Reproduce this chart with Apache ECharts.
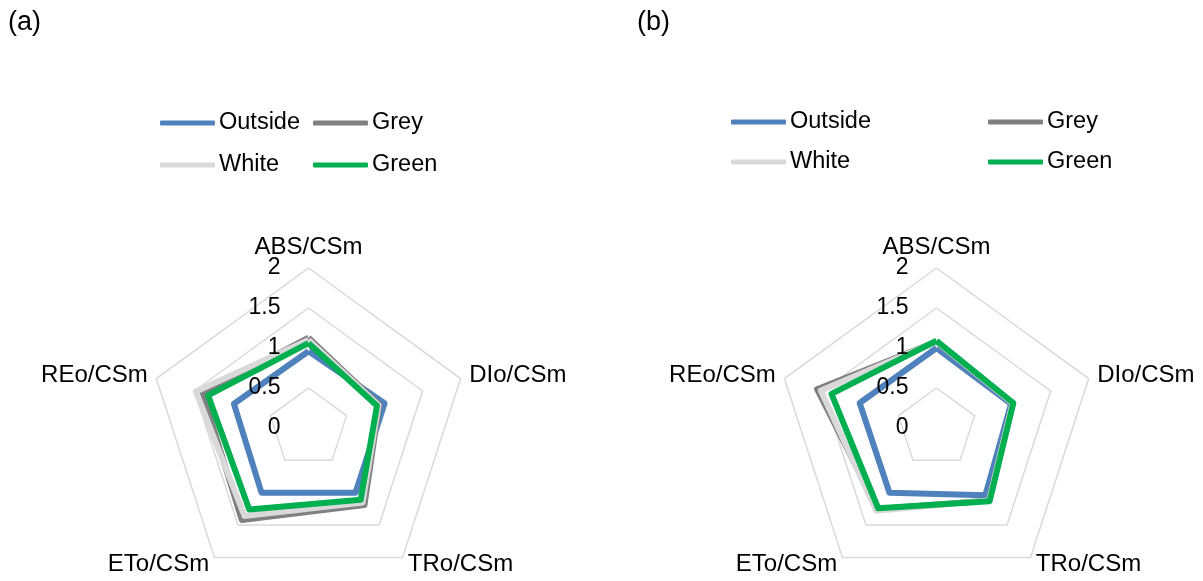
<!DOCTYPE html>
<html>
<head>
<meta charset="utf-8">
<script src="https://cdn.jsdelivr.net/npm/echarts@6/dist/echarts.min.js"></script>
<style>
  html, body { margin: 0; padding: 0; background: #fff; }
  #chart { width: 1203px; height: 581px; }
</style>
</head>
<body>
<div id="chart"></div>
<script>
// categories clockwise from the top
var categories = ['ABS/CSm', 'DIo/CSm', 'TRo/CSm', 'ETo/CSm', 'REo/CSm'];
var seriesNames = ['Outside', 'Grey', 'White', 'Green'];
var colors = ['#4f81bd', '#808080', '#d9d9d9', '#00b050'];

// (a)
var outsideA = [0.96, 1.00, 1.00, 1.00, 0.98];
var greyA    = [1.13, 0.93, 1.19, 1.42, 1.39];
var whiteA   = [1.10, 0.92, 1.15, 1.36, 1.48];
var greenA   = [1.06, 0.90, 1.11, 1.26, 1.32];

// (b)
var outsideB = [1.00, 0.98, 1.04, 1.00, 1.01];
var greyB    = [1.08, 1.00, 1.12, 1.25, 1.57];
var whiteB   = [1.08, 1.00, 1.12, 1.28, 1.52];
var greenB   = [1.09, 1.01, 1.13, 1.24, 1.38];

var axisMin = 0, axisMax = 2;
var font = 'Liberation Sans, Arial, sans-serif';

// echarts places radar indicators counter-clockwise
function ccw(arr) {
    return [0, 4, 3, 2, 1].map(function (i) { return arr[i]; });
}

function gridRadar(cx) {
    return {
        center: [cx, 428],
        radius: 160,
        startAngle: 90,
        shape: 'polygon',
        splitNumber: 4,
        nameGap: 9,
        indicator: ccw(categories).map(function (n) {
            return { name: n, min: axisMin, max: axisMax };
        }),
        axisName: { color: '#000', fontSize: 24, fontFamily: font },
        axisLine: { show: false },
        axisTick: { show: false },
        axisLabel: { show: false },
        splitLine: { lineStyle: { color: '#d9d9d9', width: 1.5 } },
        splitArea: { show: false }
    };
}

// second radar on top, only for the tick labels
function labelRadar(cx) {
    return {
        center: [cx, 428],
        radius: 160,
        startAngle: 90,
        shape: 'polygon',
        splitNumber: 4,
        z: 10,
        indicator: ccw(categories).map(function (n, i) {
            var ind = { name: n, min: axisMin, max: axisMax };
            if (i === 0) {
                ind.axisLabel = { show: true, color: '#000', fontSize: 23, fontFamily: font, margin: 28 };
            }
            return ind;
        }),
        axisName: { show: false },
        axisLine: { show: false },
        axisTick: { show: false },
        axisLabel: { show: false },
        splitLine: { show: false },
        splitArea: { show: false }
    };
}

function radarSeries(radarIndex, rows) {
    return {
        type: 'radar',
        radarIndex: radarIndex,
        symbol: 'none',
        silent: true,
        data: rows.map(function (vals, i) {
            return {
                name: seriesNames[i],
                value: ccw(vals),
                lineStyle: { color: colors[i], width: 6 },
                itemStyle: { color: colors[i] }
            };
        })
    };
}

function legendCol(left, top, names, gap) {
    return {
        data: names,
        orient: 'vertical',
        left: left,
        top: top,
        padding: 0,
        itemGap: gap,
        itemWidth: 55,
        itemHeight: 5,
        icon: 'roundRect',
        selectedMode: false,
        textStyle: { color: '#000', fontSize: 23.5, fontFamily: font, lineHeight: 24, padding: [0, 0, 0, -1] }
    };
}

var myChart = echarts.init(document.getElementById('chart'));
myChart.setOption({
    animation: false,
    color: colors,
    title: [
        { text: '(a)', left: 8, top: 9, padding: 0, textStyle: { fontSize: 27, fontWeight: 'normal', fontFamily: font, color: '#000' } },
        { text: '(b)', left: 637, top: 9, padding: 0, textStyle: { fontSize: 27, fontWeight: 'normal', fontFamily: font, color: '#000' } }
    ],
    legend: [
        legendCol(160, 111, ['Outside', 'White'], 18),
        legendCol(313, 111, ['Grey', 'Green'], 18),
        legendCol(731, 110, ['Outside', 'White'], 16),
        legendCol(988, 110, ['Grey', 'Green'], 16)
    ],
    radar: [gridRadar(308.5), labelRadar(308.5), gridRadar(936.5), labelRadar(936.5)],
    series: [
        radarSeries(0, [outsideA, greyA, whiteA, greenA]),
        radarSeries(2, [outsideB, greyB, whiteB, greenB])
    ]
});
</script>
</body>
</html>
